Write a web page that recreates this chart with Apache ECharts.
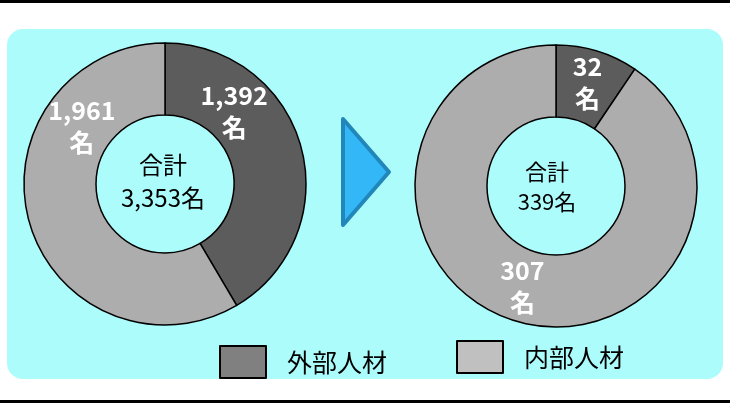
<!DOCTYPE html>
<html><head><meta charset="utf-8">
<script src="https://cdn.jsdelivr.net/npm/echarts@6/dist/echarts.min.js"></script>
<style>html,body{margin:0;padding:0;background:#fff}#c{width:730px;height:403px}</style>
</head><body><div id="c"></div>
<script>
const categories = ['外部人材', '内部人材'];
const beforeValues = [1392, 1961];
const afterValues = [32, 307];
const centerTitle = '合計';
const unit = '名';
const colors = ['#5c5c5c', '#adadad'];
const legendColors = ['#808080', '#c0c0c0'];

const fmt = n => n.toLocaleString('en-US');
const sum = a => a.reduce((s, v) => s + v, 0);
const font = '"Noto Sans CJK JP", sans-serif';

function pieSeries(values, center, offsets) {
  return {
    type: 'pie', radius: [69, 141], center: center, startAngle: 90, clockwise: true,
    silent: true, animation: false,
    itemStyle: { borderColor: '#000', borderWidth: 1.5 },
    label: {
      show: true, position: 'inside', color: '#fff', fontWeight: 'bold',
      fontSize: 25, lineHeight: 32, fontFamily: font,
      formatter: p => fmt(p.value) + '\n' + unit
    },
    labelLine: { show: false },
    data: values.map((v, i) => ({
      name: categories[i], value: v,
      itemStyle: { color: colors[i] },
      label: { offset: offsets[i] }
    }))
  };
}

const chart = echarts.init(document.getElementById('c'), null, { renderer: 'canvas' });
chart.setOption({
  backgroundColor: '#fff',
  graphic: [
    { type: 'rect', shape: { x: 0, y: 0, width: 730, height: 3 }, style: { fill: '#000' }, z: -10 },
    { type: 'rect', shape: { x: 0, y: 400, width: 730, height: 3 }, style: { fill: '#000' }, z: -10 },
    { type: 'rect', shape: { x: 7, y: 29, width: 716, height: 350, r: 16 }, style: { fill: '#adfcfc' }, z: -10 },
    { type: 'polygon', shape: { points: [[343, 119], [389, 172], [343, 225]] },
      style: { fill: '#33b7f7', stroke: '#2187bb', lineWidth: 4, lineJoin: 'round' }, z: 5 },
    { type: 'text', x: 163, y: 181, z: 10,
      style: { text: centerTitle + '\n' + fmt(sum(beforeValues)) + unit, fill: '#000', fontSize: 24, lineHeight: 33,
        fontFamily: font, align: 'center', verticalAlign: 'middle' } },
    { type: 'text', x: 547, y: 187, z: 10,
      style: { text: centerTitle + '\n' + fmt(sum(afterValues)) + unit, fill: '#000', fontSize: 22, lineHeight: 30,
        fontFamily: font, align: 'center', verticalAlign: 'middle' } }
  ],
  legend: [
    { data: [categories[0]], left: 219, top: 345, padding: 0, itemWidth: 46, itemHeight: 32, icon: 'rect',
      textStyle: { fontSize: 25, color: '#000', fontFamily: font, padding: [0, 0, 0, 16] },
      itemStyle: { color: legendColors[0], borderColor: '#000', borderWidth: 2 }, selectedMode: false },
    { data: [categories[1]], left: 456, top: 340, padding: 0, itemWidth: 46, itemHeight: 32, icon: 'rect',
      textStyle: { fontSize: 25, color: '#000', fontFamily: font, padding: [0, 0, 0, 16] },
      itemStyle: { color: legendColors[1], borderColor: '#000', borderWidth: 2 }, selectedMode: false }
  ],
  series: [
    pieSeries(beforeValues, [165, 184], [[-35, -44], [21, -86]]),
    pieSeries(afterValues, [556, 186], [[0, 0], [-2, -3]])
  ]
});
</script></body></html>
